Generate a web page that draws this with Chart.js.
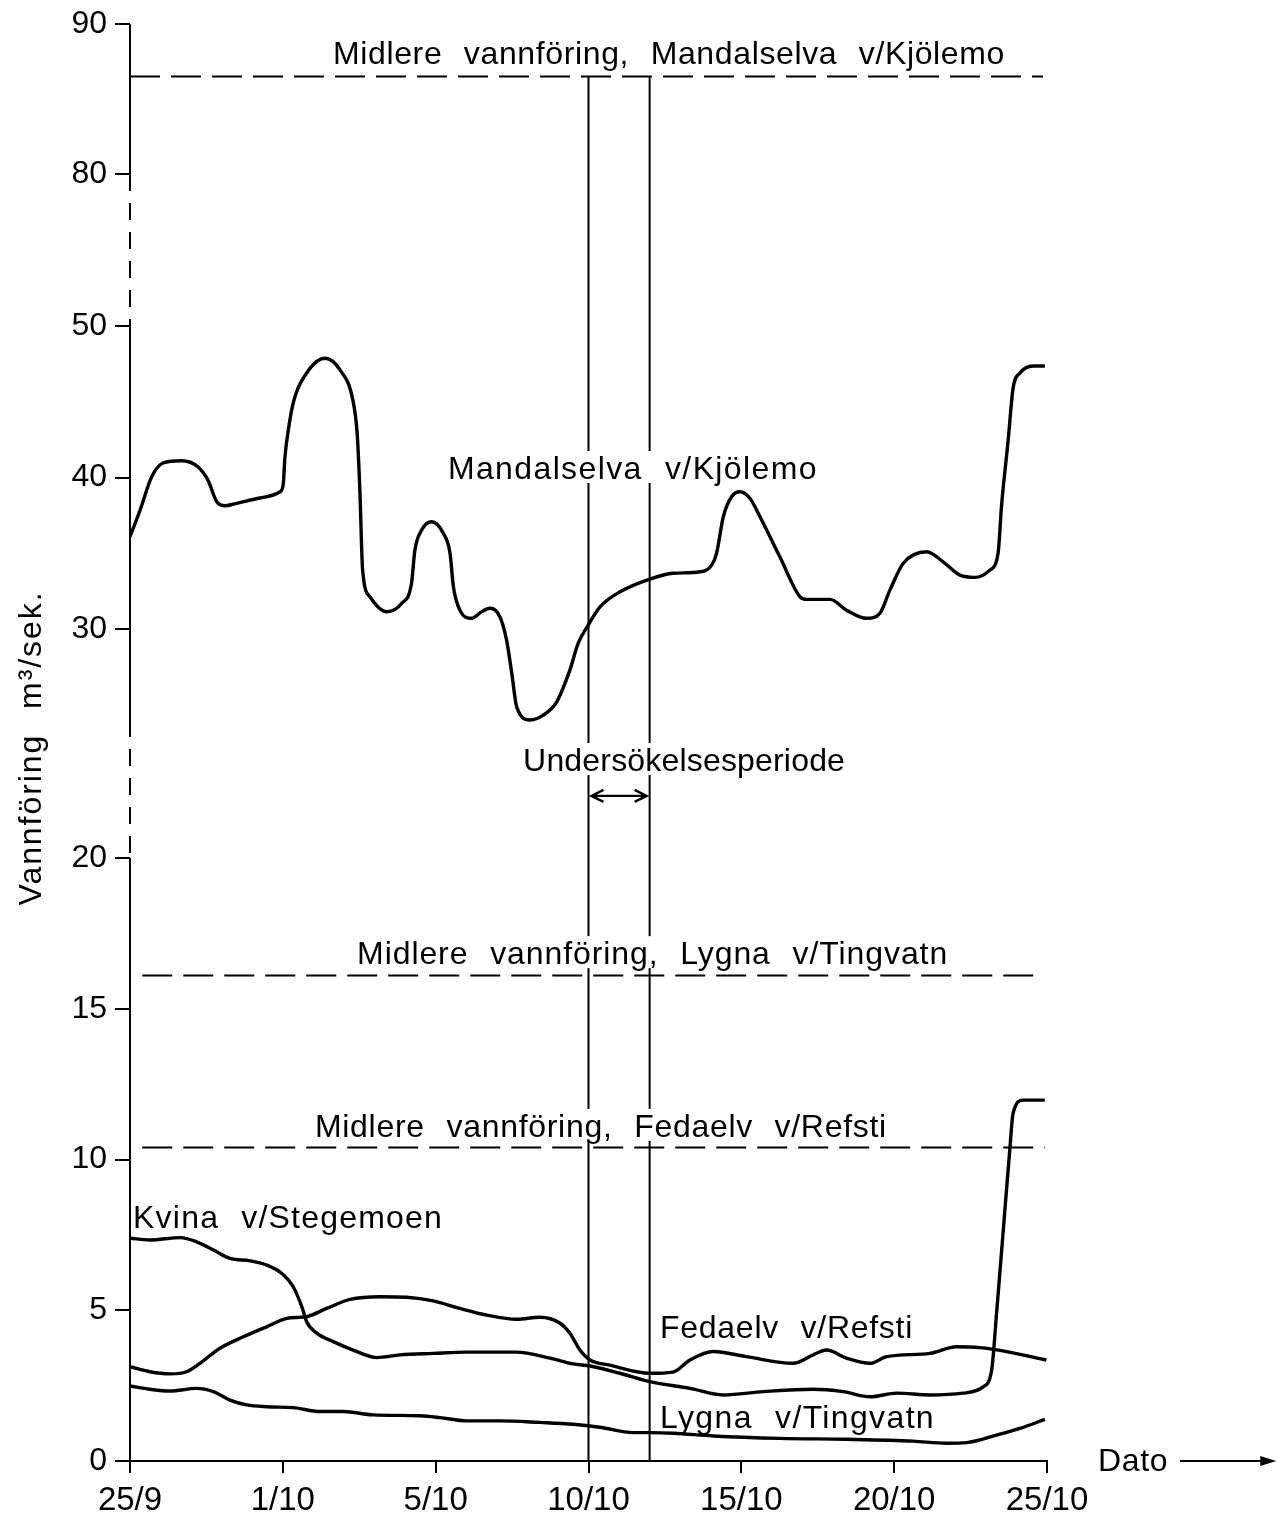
<!DOCTYPE html>
<html><head><meta charset="utf-8">
<script src="https://cdn.jsdelivr.net/npm/chart.js@4.4.1/dist/chart.umd.min.js"></script>
<style>html,body{margin:0;padding:0;background:#fff}</style>
</head><body>
<canvas id="c" width="1279" height="1514" style="display:block;width:1279px;height:1514px"></canvas>
<script>
// ---------- DATA ----------
const xTickLabels = ['25/9','1/10','5/10','10/10','15/10','20/10','25/10'];
const yTickValues = [0,5,10,15,20,30,40,50,80,90];

const mandalX = [0,0.33,0.71,1.08,1.69,2.22,2.55,2.84,3.11,3.49,4.25,4.91,5.01,5.07,5.18,5.34,5.78,6.38,6.87,7.29,7.43,7.52,7.61,7.85,8.4,8.89,9.21,9.32,9.54,9.87,10.25,10.47,10.58,10.79,11.18,11.5,11.78,12.1,12.32,12.49,12.65,13.09,13.52,13.96,14.39,14.66,14.99,15.37,16.03,17.01,17.77,18.65,19.03,19.19,19.41,19.68,19.95,20.28,20.61,21.26,21.92,22.14,22.9,23.44,24.1,24.53,24.86,25.3,26.06,26.6,27.15,27.64,28.13,28.4,28.51,28.73,28.89,29.11,29.55,29.93];
const mandalY = [36.1,37.85,40.05,40.96,41.11,40.71,39.83,38.4,38.14,38.3,38.65,39.06,39.5,41.37,43.14,44.92,46.9,47.87,47.1,45.12,42.94,39.17,33.9,32.13,31.14,31.7,33.02,35.21,36.53,37.08,36.32,35.0,32.79,31.25,30.71,31.14,31.37,30.81,29.27,27.08,24.87,24.0,24.32,25.2,27.29,29.06,30.26,31.45,32.46,33.3,33.68,33.78,34.22,35.0,37.41,38.73,39.06,38.63,37.41,34.77,32.13,31.96,31.96,31.25,30.71,31.04,32.57,34.34,35.1,34.44,33.56,33.41,33.89,35.0,38.07,42.48,45.89,46.88,47.36,47.36];

const kvinaX = [0,0.65,1.64,2.18,2.73,3.27,3.93,4.47,4.96,5.34,5.62,5.78,6.11,6.65,7.3,8.07,8.83,9.92,11.01,12.65,13.74,14.5,15.05,16.03,17.01,18.32,19.41,20.72,22.35,23.33,24.21,25.08,26.17,27.26,27.91,28.19,28.35,28.57,28.79,28.89,29.22,29.93];
const kvinaY = [7.39,7.33,7.41,7.27,7.0,6.72,6.64,6.5,6.23,5.78,5.12,4.62,4.24,3.96,3.68,3.43,3.52,3.57,3.61,3.61,3.41,3.22,3.15,2.91,2.63,2.41,2.19,2.3,2.38,2.3,2.13,2.25,2.19,2.25,2.46,3.02,4.9,7.66,10.42,11.53,11.97,11.97];

const fedaX = [0,0.65,1.31,1.85,2.29,2.94,3.71,4.47,5.13,5.78,6.43,7.2,8.18,9.05,9.92,10.79,11.67,12.65,13.41,14.07,14.39,14.72,15.05,15.7,17.01,17.76,18.32,19.08,20.17,21.7,22.35,22.79,23.44,24.21,24.75,26.17,27.04,27.8,28.68,29.98];
const fedaY = [3.13,2.96,2.89,2.96,3.24,3.74,4.12,4.45,4.73,4.79,5.06,5.36,5.45,5.43,5.31,5.06,4.84,4.7,4.77,4.57,4.24,3.68,3.35,3.18,2.91,2.95,3.35,3.63,3.46,3.24,3.52,3.68,3.41,3.24,3.46,3.57,3.79,3.76,3.63,3.35];

const lygnaX = [0,0.65,1.31,2.18,2.73,3.27,3.82,4.47,5.34,6.22,6.98,7.96,9.49,10.14,11.01,12.1,13.41,14.5,15.37,16.46,17.01,17.77,19.08,21.26,23.44,25.62,26.72,27.37,28.35,29.11,29.93];
const lygnaY = [2.49,2.38,2.32,2.41,2.3,2.02,1.86,1.8,1.77,1.64,1.64,1.53,1.5,1.44,1.33,1.33,1.28,1.22,1.12,0.94,0.94,0.92,0.83,0.75,0.72,0.66,0.59,0.61,0.86,1.08,1.38];

const meanMandal = 86.5;
const meanLygna = 16.1;
const meanFeda = 10.4;
const periodStart = 15;   // 10/10
const periodEnd = 17;     // 12/10

// ---------- SCALE: broken y axis ----------
const yBreakValues = [0,20,24,50,80,90];
const yBreakFracs  = [0,0.41962,0.51566,0.78984,0.89562,1];
function valToFrac(v){
  const V=yBreakValues,F=yBreakFracs;
  if(v<=V[0]) return F[0]+(v-V[0])*(F[1]-F[0])/(V[1]-V[0]);
  for(let i=1;i<V.length;i++){
    if(v<=V[i]) return F[i-1]+(v-V[i-1])*(F[i]-F[i-1])/(V[i]-V[i-1]);
  }
  const n=V.length-1;
  return F[n]+(v-V[n])*(F[n]-F[n-1])/(V[n]-V[n-1]);
}
function fracToVal(f){
  const V=yBreakValues,F=yBreakFracs;
  for(let i=1;i<F.length;i++){
    if(f<=F[i]) return V[i-1]+(f-F[i-1])*(V[i]-V[i-1])/(F[i]-F[i-1]);
  }
  return V[V.length-1];
}
const LinearBase = Chart.LinearScale || Chart.registry.getScale('linear');
class BrokenScale extends LinearBase {
  getPixelForValue(value){
    return this.bottom - valToFrac(value)*(this.bottom-this.top);
  }
  getValueForPixel(pixel){
    return fracToVal((this.bottom-pixel)/(this.bottom-this.top));
  }
}
BrokenScale.id = 'broken';
BrokenScale.defaults = LinearBase.defaults;
Chart.register(BrokenScale);

// ---------- helpers ----------
const FONT = "'Liberation Sans', Arial, sans-serif";
const zip = (xs, ys) => xs.map((x,i)=>({x, y: ys[i]}));

function fitFont(ctx, text, width, size, wordGap){
  ctx.font = size + 'px ' + FONT;
  ctx.letterSpacing = '0px';
  ctx.wordSpacing = wordGap + 'px';
  const nat = ctx.measureText(text).width;
  const n = Array.from(text).length;
  ctx.letterSpacing = ((width - nat) / n) + 'px';
}

// text labels placed in data coordinates
const labels = [
  {text:'Midlere vannföring, Mandalselva v/Kjölemo', x:6.64, y:87.35, w:672, bg:true},
  {text:'Mandalselva v/Kjölemo', x:10.4, y:39.9, w:370, bg:true},
  {text:'Undersökelsesperiode', x:12.86, y:22.52, w:322, bg:true},
  {text:'Midlere vannföring, Lygna v/Tingvatn', x:7.43, y:16.48, w:591, bg:true},
  {text:'Midlere vannföring, Fedaelv v/Refsti', x:6.05, y:10.75, w:572, bg:true},
  {text:'Kvina v/Stegemoen', x:0.1, y:7.73, w:310, bg:false},
  {text:'Fedaelv v/Refsti', x:17.34, y:4.08, w:253, bg:false},
  {text:'Lygna v/Tingvatn', x:17.34, y:1.09, w:275, bg:false},
  {text:'Dato', x:31.67, y:-0.33, w:70, bg:false}
];
const arrowValue = 21.8;

const whiteBg = {
  id:'whiteBg',
  beforeDraw(chart){
    const ctx=chart.ctx; ctx.save(); ctx.fillStyle='#fff';
    ctx.fillRect(0,0,chart.width,chart.height); ctx.restore();
  }
};

const brokenAxis = {
  id:'brokenAxis',
  afterDraw(chart){
    const ctx=chart.ctx, y=chart.scales.y, x0=chart.chartArea.left;
    const seg=(a,b,dashed)=>{
      ctx.beginPath();
      ctx.setLineDash(dashed?[17,12]:[]);
      ctx.moveTo(x0, y.getPixelForValue(a));
      ctx.lineTo(x0, y.getPixelForValue(b));
      ctx.stroke();
    };
    ctx.save(); ctx.strokeStyle='#000'; ctx.lineWidth=2; ctx.lineCap='butt';
    seg(90,80,false); seg(80,50,true); seg(50,24,false); seg(24,20,true); seg(20,0,false);
    ctx.restore();
  }
};

const annotate = {
  id:'annotate',
  afterDatasetsDraw(chart){
    const ctx=chart.ctx, xs=chart.scales.x, ys=chart.scales.y;
    ctx.save();
    ctx.fillStyle='#000'; ctx.textBaseline='alphabetic'; ctx.textAlign='left';
    for(const L of labels){
      fitFont(ctx, L.text, L.w, 32, 12);
      const px=xs.getPixelForValue(L.x), py=ys.getPixelForValue(L.y);
      if(L.bg){
        ctx.fillStyle='#fff';
        ctx.fillRect(px-6, py-28, L.w+12, 32);
        ctx.fillStyle='#000';
      }
      ctx.fillText(L.text, px, py);
    }
    // study-period double arrow
    const ay=ys.getPixelForValue(arrowValue);
    const a1=xs.getPixelForValue(periodStart)+3, a2=xs.getPixelForValue(periodEnd)-3;
    ctx.strokeStyle='#000'; ctx.lineWidth=2.4; ctx.setLineDash([]);
    ctx.beginPath(); ctx.moveTo(a1,ay); ctx.lineTo(a2,ay);
    ctx.moveTo(a1+12,ay-6); ctx.lineTo(a1,ay); ctx.lineTo(a1+12,ay+6);
    ctx.moveTo(a2-12,ay-6); ctx.lineTo(a2,ay); ctx.lineTo(a2-12,ay+6);
    ctx.stroke();
    // Dato arrow
    const d1=xs.getPixelForValue(34.35), d2=xs.getPixelForValue(37.5), dy=ys.getPixelForValue(0);
    ctx.lineWidth=2;
    ctx.beginPath(); ctx.moveTo(d1,dy); ctx.lineTo(d2-10,dy); ctx.stroke();
    ctx.beginPath(); ctx.moveTo(d2,dy); ctx.lineTo(d2-16,dy-5); ctx.lineTo(d2-16,dy+5); ctx.closePath(); ctx.fill();
    // y axis title
    ctx.translate(32, 748); ctx.rotate(-Math.PI/2);
    ctx.textAlign='center'; ctx.textBaseline='middle';
    fitFont(ctx, 'Vannföring m³/sek.', 315, 32, 14);
    ctx.fillText('Vannföring m³/sek.', 0, 0);
    ctx.restore();
  }
};

const curve = (label, xs, ys) => ({
  label, data: zip(xs, ys), borderColor:'#000', borderWidth:3.4,
  pointRadius:0, cubicInterpolationMode:'monotone', fill:false
});
const straight = (label, pts, dash, w) => ({
  label, data: pts, borderColor:'#000', borderWidth:w, borderDash:dash,
  pointRadius:0, tension:0, fill:false
});

new Chart(document.getElementById('c'), {
  type:'line',
  data:{ datasets:[
    straight('Midlere vannføring Mandalselva', [{x:0,y:meanMandal},{x:29.87,y:meanMandal}], [30,11], 2),
    straight('Midlere vannføring Lygna', [{x:0.4,y:meanLygna},{x:29.87,y:meanLygna}], [30,11], 2),
    straight('Midlere vannføring Fedaelv', [{x:0.4,y:meanFeda},{x:29.93,y:meanFeda}], [30,11], 2),
    straight('10/10', [{x:periodStart,y:0},{x:periodStart,y:meanMandal}], [], 2),
    straight('12/10', [{x:periodEnd,y:0},{x:periodEnd,y:meanMandal}], [], 2),
    curve('Mandalselva v/Kjölemo', mandalX, mandalY),
    curve('Kvina v/Stegemoen', kvinaX, kvinaY),
    curve('Fedaelv v/Refsti', fedaX, fedaY),
    curve('Lygna v/Tingvatn', lygnaX, lygnaY)
  ]},
  options:{
    responsive:false, devicePixelRatio:1, animation:false,
    layout:{ padding:{ left:0, top:24, right:232, bottom:0 } },
    plugins:{ legend:{display:false}, tooltip:{enabled:false} },
    scales:{
      x:{
        type:'linear', min:0, max:30,
        afterBuildTicks:(s)=>{ s.ticks = xTickLabels.map((_,i)=>({value:i*5})); },
        afterFit:(s)=>{ s.height=53; s.paddingLeft=0; s.paddingRight=0; s.paddingTop=0; s.paddingBottom=0; },
        border:{ display:true, color:'#000', width:2 },
        grid:{ drawOnChartArea:false, drawTicks:true, tickLength:12, color:'#000', lineWidth:2 },
        ticks:{ autoSkip:false, maxRotation:0, padding:8, color:'#000',
          font:{ family:FONT, size:33 },
          callback:(v)=> xTickLabels[Math.round(v/5)] }
      },
      y:{
        type:'broken', min:0, max:90,
        afterBuildTicks:(s)=>{ s.ticks = yTickValues.map(v=>({value:v})); },
        afterFit:(s)=>{ s.width=130; s.paddingLeft=0; s.paddingRight=0; s.paddingTop=0; s.paddingBottom=0; },
        border:{ display:false },
        grid:{ drawOnChartArea:false, drawTicks:true, tickLength:15, color:'#000', lineWidth:2 },
        ticks:{ padding:8, color:'#000', font:{ family:FONT, size:32 },
          callback:(v)=> String(v) }
      }
    }
  },
  plugins:[whiteBg, brokenAxis, annotate]
});
</script>
</body></html>
